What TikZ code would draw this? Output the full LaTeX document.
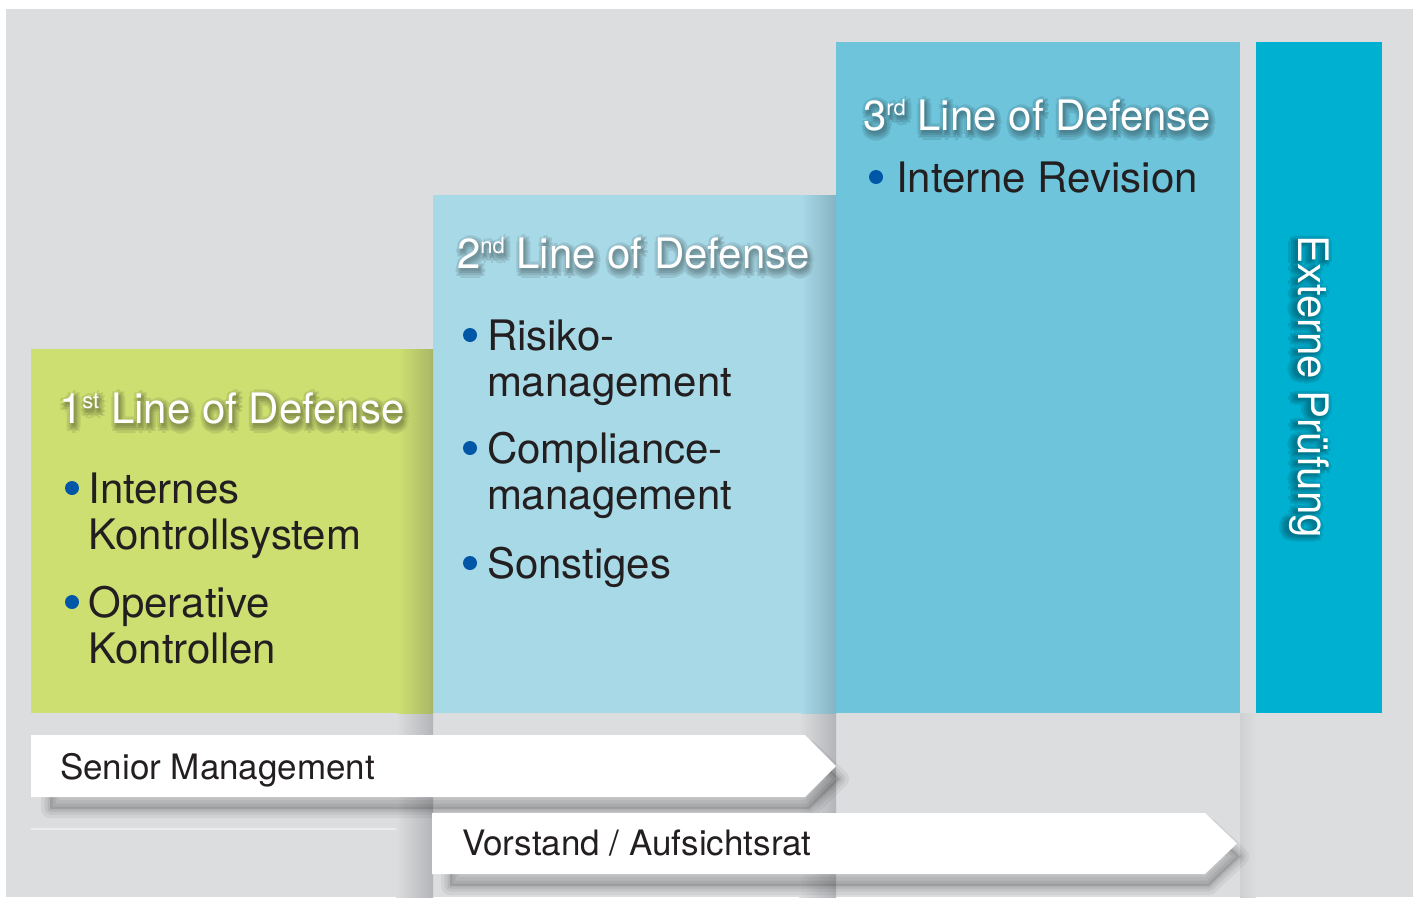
\documentclass[tikz,border=0pt]{standalone}
\usepackage{fontspec}
\setmainfont{TeX Gyre Heros}
\definecolor{bggray}{HTML}{DCDDDF}
\definecolor{colshade}{HTML}{B4B5B8}
\definecolor{lodgreen}{HTML}{CEDF72}
\definecolor{greenshade}{HTML}{A9B765}
\definecolor{lodlight}{HTML}{A8D9E7}
\definecolor{lightshade}{HTML}{86B3C3}
\definecolor{lodmid}{HTML}{6DC4DB}
\definecolor{lodcyan}{HTML}{00B0D0}
\definecolor{textdark}{HTML}{231F20}
\definecolor{bulletblue}{HTML}{0057A8}
\tikzset{
  titlefont/.style={font=\fontsize{42}{46}\selectfont},
  bodyfont/.style={font=\fontsize{42}{46}\selectfont, text=textdark},
  barfont/.style={font=\fontsize{35}{40}\selectfont, text=textdark},
  lbl/.style={anchor=base west, inner sep=0pt, outer sep=0pt},
  heading/.style={lbl, titlefont, text=white},
  dot/.style={circle, fill=bulletblue, inner sep=0pt, minimum size=14pt},
  panel/.style={anchor=north west, inner sep=0pt, outer sep=0pt, draw=none},
  barshape/.style={fill=white},
}
% raised small suffix for ordinal numbers
\newcommand\ordsuffix[1]{\raisebox{15pt}{\fontsize{22}{22}\selectfont #1}}
% one offset copy of a heading in a given colour
\newcommand\halocopy[4]{\rlap{\kern#1pt\raisebox{-#2pt}{\textcolor{#3}{#4}}}}
% heading with a soft dark halo built from stacked offset copies
\newcommand\halotext[2]{%
  \foreach \gx/\gy in {-2/-1,6/-1,-2/8,6/8,2/-3,2/10,-3/4,7/4}{\halocopy{\gx}{\gy}{#1!90!black}{#2}}%
  \foreach \gx/\gy in {0/0,4/0,0/7,4/7,-1/4,5/4}{\halocopy{\gx}{\gy}{#1!82!black}{#2}}%
  \foreach \gx/\gy in {1/2,3/2,1/5,3/5}{\halocopy{\gx}{\gy}{#1!74!black}{#2}}%
  \halocopy{2}{3}{#1!68!black}{#2}%
  #2}
% soft shadow under a bar
\newcommand\barshadow[1]{%
  \fill[black, opacity=0.13] #1;
  \foreach \w/\o in {18/0.05,11/0.06,5/0.07}{%
    \draw[black, opacity=\o, line width=\w pt, line join=round] #1;}}

\begin{document}
\begin{tikzpicture}[x=1pt,y=-1pt]
\useasboundingbox (0,0) rectangle (1416,897);
\fill[white] (0,0) rectangle (1416,897);
\fill[bggray] (6,9) rectangle (1413,897);

% faint ledge and column shadows in the lower gray area
\draw[white!45!bggray, line width=1.2pt] (31,829) -- (433,829);
\shade[left color=bggray, right color=colshade] (396,713) rectangle (433,897);
\shade[left color=bggray, right color=colshade] (799,713) rectangle (836,897);
\shade[left color=black!6!bggray, right color=bggray] (1240,713) rectangle (1256,897);

% the four columns
\node[panel, fill=lodgreen, minimum width=402pt, minimum height=364pt] (box1) at (31,349) {};
\node[panel, fill=lodlight, minimum width=403pt, minimum height=518pt] (box2) at (433,195) {};
\node[panel, fill=lodmid, minimum width=404pt, minimum height=671pt] (box3) at (836,42) {};
\node[panel, fill=lodcyan, minimum width=126pt, minimum height=671pt] (box4) at (1256,42) {};

% shadows cast by the taller column onto its neighbour
\shade[left color=lodgreen, right color=greenshade] (398,349) rectangle (433,713);
\shade[left color=lodlight, right color=lightshade] (801,195) rectangle (836,713);

% management bars
\barshadow{(50,749) -- (809,749) -- (840,779) -- (809,809) -- (50,809) -- cycle}
\fill[barshape] (31,735) -- (805,735) -- (836,766) -- (805,797) -- (31,797) -- cycle;
\barshadow{(450,827) -- (1209,827) -- (1240,856.5) -- (1209,886) -- (450,886) -- cycle}
\fill[barshape] (432,813) -- (1205,813) -- (1237,843.5) -- (1205,874) -- (432,874) -- cycle;

\node[lbl, barfont] (sm) at (60,779) {Senior Management};
\node[lbl, barfont] (vs) at (462,855) {Vorstand / Aufsichtsrat};

% first line
\node[heading] (t1) at (59,423) {\halotext{lodgreen}{1\ordsuffix{st} Line of Defense}};
\node[dot] (b11) at (72,488) {};
\node[lbl, bodyfont] (i11) at (88.5,503) {Internes};
\node[lbl, bodyfont] (i12) at (88.5,549) {Kontrollsystem};
\node[dot] (b12) at (72,602) {};
\node[lbl, bodyfont] (i13) at (88.5,617) {Operative};
\node[lbl, bodyfont] (i14) at (88.5,663) {Kontrollen};

% second line
\node[heading] (t2) at (457,268) {\halotext{lodlight}{2\ordsuffix{nd} Line of Defense}};
\node[dot] (b21) at (470,335) {};
\node[lbl, bodyfont] (i21) at (487,350) {Risiko-};
\node[lbl, bodyfont] (i22) at (487,396) {management};
\node[dot] (b22) at (470,448) {};
\node[lbl, bodyfont] (i23) at (487,463) {Compliance-};
\node[lbl, bodyfont] (i24) at (487,509) {management};
\node[dot] (b23) at (470,563) {};
\node[lbl, bodyfont] (i25) at (487,578) {Sonstiges};

% third line
\node[heading] (t3) at (863,130) {\halotext{lodmid}{3\ordsuffix{rd} Line of Defense}};
\node[dot] (b31) at (876,177) {};
\node[lbl, bodyfont] (i31) at (896,192) {Interne Revision};

% external audit, set vertically
\node[heading, rotate=-90] (t4) at (1298,235) {\halotext{lodcyan}{Externe Prüfung}};
\end{tikzpicture}
\end{document}
